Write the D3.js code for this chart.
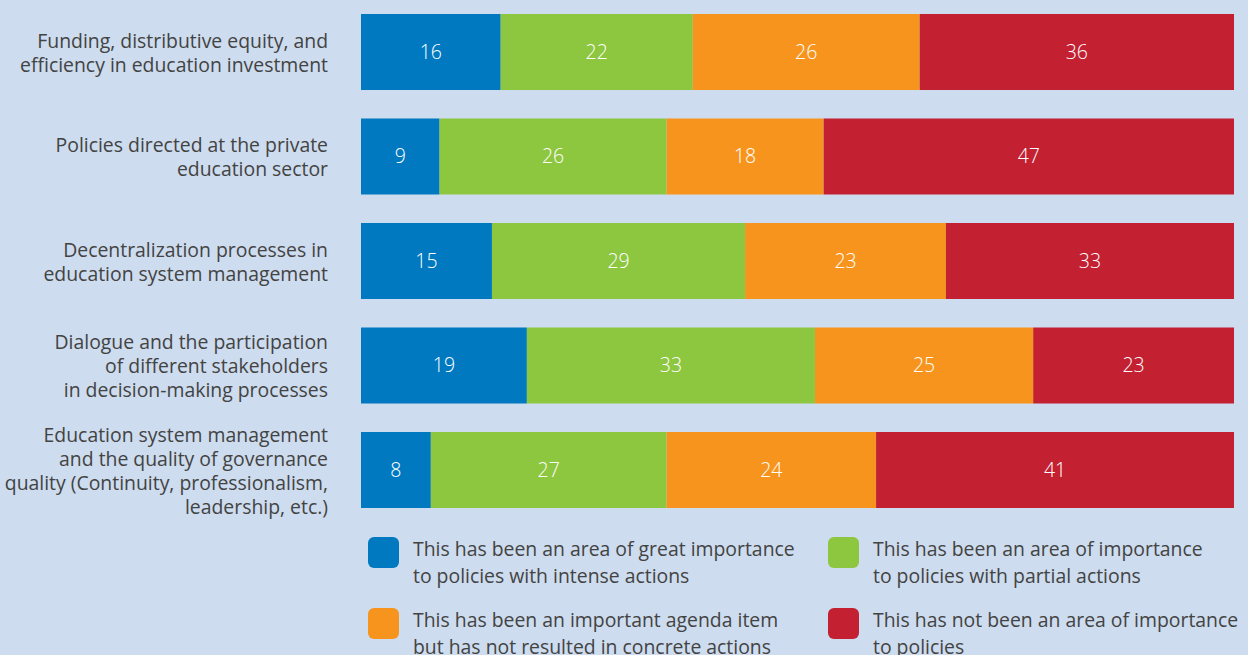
<!DOCTYPE html>
<html><head><meta charset="utf-8">
<script src="https://cdn.jsdelivr.net/npm/d3@7"></script>
<style>html,body{margin:0;padding:0;background:#cddcee;}svg{display:block;}</style>
</head><body><svg id="c" width="1248" height="655"></svg>
<script>
const categories = [
  ["Funding, distributive equity, and", "efficiency in education investment"],
  ["Policies directed at the private", "education sector"],
  ["Decentralization processes in", "education system management"],
  ["Dialogue and the participation", "of different stakeholders", "in decision-making processes"],
  ["Education system management", "and the quality of governance", "quality (Continuity, professionalism,", "leadership, etc.)"]
];
const seriesNames = [
  ["This has been an area of great importance", "to policies with intense actions"],
  ["This has been an area of importance", "to policies with partial actions"],
  ["This has been an important agenda item", "but has not resulted in concrete actions"],
  ["This has not been an area of importance", "to policies"]
];
const intense = [16, 9, 15, 19, 8];
const partial = [22, 26, 29, 33, 27];
const agenda  = [26, 18, 23, 25, 24];
const notImp  = [36, 47, 33, 23, 41];
const colors = ["#0079c1", "#8dc63f", "#f7941d", "#c32032"];

const svg = d3.select("#c");
const font = "'Open Sans', sans-serif";
const textCol = "#434343";

const rows = categories.map((c, i) => ({i, vals: [intense[i], partial[i], agenda[i], notImp[i]]}));
const y = d3.scaleBand().domain(d3.range(categories.length)).range([14, 508]).paddingInner(0.2727).paddingOuter(0);
const x = d3.scaleLinear().domain([0, 100]).range([361, 1234]);

const stack = d3.stack().keys([0,1,2,3]).value((d, k) => d.vals[k]);
const stacked = stack(rows);

const g = svg.append("g");
stacked.forEach((layer, k) => {
  const lg = g.append("g");
  lg.selectAll("rect").data(layer).join("rect")
    .attr("x", d => x(d[0])).attr("width", d => x(d[1]) - x(d[0]))
    .attr("y", (d, i) => y(i)).attr("height", y.bandwidth())
    .attr("fill", colors[k]);
  lg.selectAll("text").data(layer).join("text")
    .attr("x", d => (x(d[0]) + x(d[1])) / 2)
    .attr("y", (d, i) => y(i) + y.bandwidth() / 2)
    .attr("dy", "0.35em").attr("text-anchor", "middle")
    .attr("fill", "#ffffff").attr("font-family", font).attr("font-weight", 300)
    .attr("font-size", 19.5)
    .text(d => d[1] - d[0]);
});

// category labels
const lh = 24;
categories.forEach((lines, i) => {
  const cy = y(i) + y.bandwidth() / 2;
  const t = svg.append("text").attr("text-anchor", "end").attr("font-family", font)
    .attr("font-size", 19.4).attr("fill", textCol);
  lines.forEach((l, j) => {
    t.append("tspan").attr("x", 328)
      .attr("y", cy + (j - (lines.length - 1) / 2) * lh + 1)
      .attr("dy", "0.35em").text(l);
  });
});

// legend
const legPos = [[368, 537], [828, 537], [368, 608], [828, 608]];
seriesNames.forEach((lines, k) => {
  const [lx, ly] = legPos[k];
  svg.append("rect").attr("x", lx).attr("y", ly).attr("width", 31).attr("height", 31)
    .attr("rx", 6).attr("fill", colors[k]);
  const t = svg.append("text").attr("font-family", font).attr("font-size", 19.4).attr("fill", textCol);
  lines.forEach((l, j) => {
    t.append("tspan").attr("x", lx + 45).attr("y", ly + 19 + j * 26.5).text(l);
  });
});
</script></body></html>
